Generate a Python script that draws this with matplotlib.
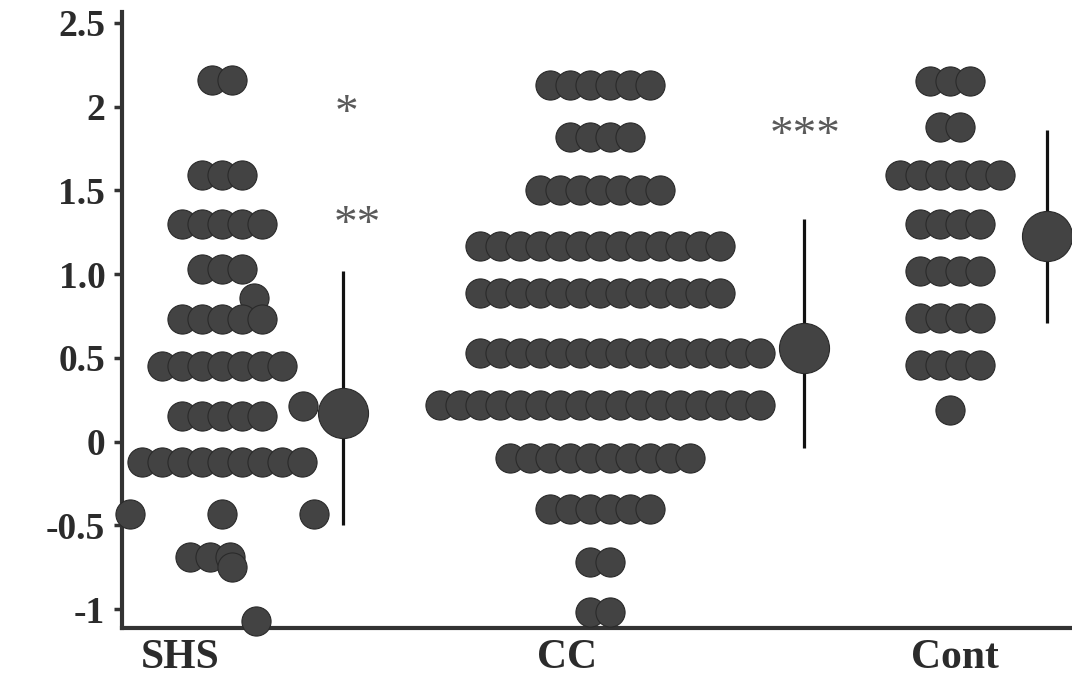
import matplotlib
matplotlib.use("Agg")
import matplotlib.pyplot as plt
import numpy as np

# groups and their dot rows (value of the row, number of dots in the row)
groups = ["SHS", "CC", "Cont"]

shs_values = [2.16, 1.59, 1.30, 1.03, 0.86, 0.73, 0.45, 0.21, 0.15, -0.12, -0.43, -0.69, -0.75, -1.07]
shs_counts = [2, 3, 5, 3, 1, 5, 7, 1, 5, 9, 3, 3, 1, 1]

cc_values = [2.13, 1.82, 1.50, 1.17, 0.89, 0.53, 0.22, -0.10, -0.40, -0.72, -1.02]
cc_counts = [6, 4, 7, 13, 13, 15, 17, 10, 6, 2, 2]

cont_values = [2.15, 1.88, 1.59, 1.30, 1.02, 0.74, 0.46, 0.19]
cont_counts = [3, 2, 6, 4, 4, 4, 4, 1]

# mean and range bar per group
means = [0.17, 0.56, 1.23]
bar_low = [-0.50, -0.04, 0.71]
bar_high = [1.02, 1.33, 1.86]

# significance marks
star_text = ["*", "**", "***"]
star_y = [2.01, 1.35, 1.88]

yticks = [-1, -0.5, 0, 0.5, 1.0, 1.5, 2, 2.5]
ytick_labels = ["-1", "-0.5", "0", "0.5", "1.0", "1.5", "2", "2.5"]

# layout (axis is in pixel-like units, 950 wide)
group_center = [100, 478, 828]
mean_x = [221, 682, 925]
label_x = [58, 445, 833]
star_x = [225, 235, 683]
dot_step = 20
# a few rows in the scan sit off-centre or spread out
row_shift = {("SHS", 0.21): 81, ("SHS", 0.86): 32, ("SHS", -1.07): 34,
             ("SHS", -0.75): 10, ("SHS", -0.69): -12, ("CC", 0.53): 20}
row_spread = {("SHS", -0.43): 4.6}

serif = ["Liberation Serif", "DejaVu Serif"]
dot_face = "#434343"
dot_edge = "#2a2a2a"

fig = plt.figure(figsize=(10.72, 6.88), dpi=100)
ax = fig.add_axes([0.1138, 0.0872, 0.8862, 0.8954])

rows = [(shs_values, shs_counts), (cc_values, cc_counts), (cont_values, cont_counts)]
for gi, (vals, cnts) in enumerate(rows):
    xs, ys = [], []
    for v, n in zip(vals, cnts):
        step = dot_step * row_spread.get((groups[gi], v), 1.0)
        offs = (np.arange(n) - (n - 1) / 2) * step
        offs = offs + row_shift.get((groups[gi], v), 0)
        xs.extend(group_center[gi] + offs)
        ys.extend([v] * n)
    ax.scatter(xs, ys, s=440, facecolor=dot_face, edgecolor=dot_edge,
               linewidth=0.8, zorder=3, clip_on=False)

# range bars with big mean dots
ax.vlines(mean_x, bar_low, bar_high, color="#111111", linewidth=2.3, zorder=2)
ax.scatter(mean_x, means, s=1300, facecolor=dot_face, edgecolor=dot_edge,
           linewidth=0.8, zorder=4, clip_on=False)

for sx, sy, st in zip(star_x, star_y, star_text):
    ax.text(sx, sy - 0.06, st, ha="center", va="center", fontsize=34,
            family=serif, color="#5a5a5a")

ax.set_xlim(0, 950)
ax.set_ylim(-1.113, 2.565)

ax.set_yticks(yticks)
ax.set_yticklabels(ytick_labels, family=serif, fontweight="bold", fontsize=27, color="#2b2b2b")
ax.set_xticks(label_x)
ax.set_xticklabels(groups, family=serif, fontweight="bold", fontsize=30, color="#2b2b2b")

ax.tick_params(axis="y", direction="out", length=6, width=2.5, color="#333333", pad=6)
ax.tick_params(axis="x", length=0, pad=8)

for side in ["top", "right"]:
    ax.spines[side].set_visible(False)
for side in ["left", "bottom"]:
    ax.spines[side].set_linewidth(3)
    ax.spines[side].set_color("#333333")

fig.savefig("out.png", dpi=100)
